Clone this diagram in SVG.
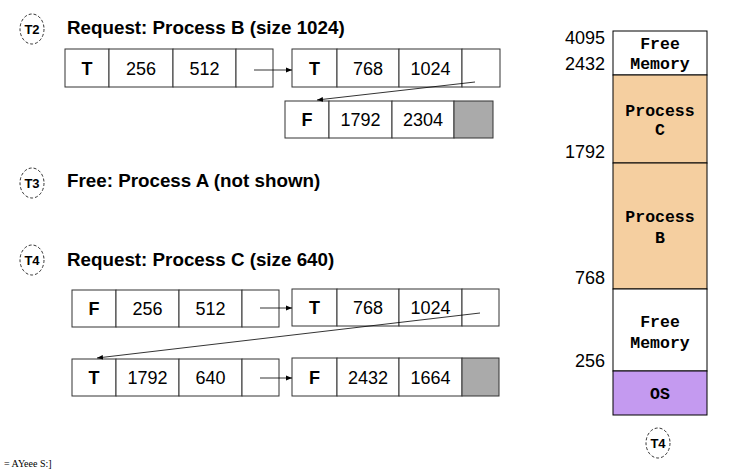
<svg xmlns="http://www.w3.org/2000/svg" width="752" height="470" viewBox="0 0 752 470">
<defs>
<style>
.bg{fill:#fff}
.cell{fill:#fff;stroke:#333;stroke-width:1}
.gray{fill:#aaaaaa;stroke:#333;stroke-width:1}
.t{font-family:"Liberation Sans",Arial,sans-serif;font-size:18px;fill:#000;text-anchor:middle}
.b{font-weight:bold}
.h{font-family:"Liberation Sans",Arial,sans-serif;font-size:18.8px;font-weight:bold;fill:#000}
.tag{fill:none;stroke:#000;stroke-width:0.8;stroke-dasharray:3,2}
.tagt{font-family:"Liberation Sans",Arial,sans-serif;font-size:13px;font-weight:bold;text-anchor:middle}
.addr{font-family:"Liberation Sans",Arial,sans-serif;font-size:18px;text-anchor:end}
.mono{font-family:"Liberation Mono","Courier New",monospace;font-size:16.5px;font-weight:bold;text-anchor:middle}
.conn{stroke:#000;stroke-width:0.8;fill:none;marker-end:url(#ah)}
.blk{stroke:#000;stroke-width:1}
</style>
<marker id="ah" viewBox="0 0 10 10" refX="10" refY="5" markerWidth="6" markerHeight="6" orient="auto" markerUnits="userSpaceOnUse">
<path d="M0,1 L10,5 L0,9 z" fill="#000"/>
</marker>
</defs>
<rect class="bg" x="0" y="0" width="752" height="470"/>

<g id="tag-T2"><ellipse class="tag" cx="32" cy="29" rx="12" ry="15"/><text class="tagt" x="32" y="34">T2</text></g>
<text class="h" x="67" y="34">Request: Process B (size 1024)</text>

<g id="n-T2-1">
<rect class="cell" x="65" y="49" width="44" height="38"/>
<rect class="cell" x="109" y="49" width="64" height="38"/>
<rect class="cell" x="173" y="49" width="63" height="38"/>
<rect class="cell" x="236" y="49" width="37" height="38"/>
<text class="t b" x="87" y="75">T</text><text class="t" x="141" y="75">256</text><text class="t" x="204.5" y="75">512</text>
</g>
<g id="n-T2-2">
<rect class="cell" x="292" y="49" width="45" height="38"/>
<rect class="cell" x="337" y="49" width="62" height="38"/>
<rect class="cell" x="399" y="49" width="63" height="38"/>
<rect class="cell" x="462" y="49" width="38" height="38"/>
<text class="t b" x="314.5" y="75">T</text><text class="t" x="368" y="75">768</text><text class="t" x="430.5" y="75">1024</text>
</g>
<g id="n-T2-3">
<rect class="cell" x="285" y="101" width="44" height="37"/>
<rect class="cell" x="329" y="101" width="63" height="37"/>
<rect class="cell" x="392" y="101" width="62" height="37"/>
<rect class="gray" x="454" y="101" width="39" height="37"/>
<text class="t b" x="307" y="126">F</text><text class="t" x="360.5" y="126">1792</text><text class="t" x="423" y="126">2304</text>
</g>

<g id="tag-T3"><ellipse class="tag" cx="32" cy="183" rx="12" ry="15"/><text class="tagt" x="32" y="188">T3</text></g>
<text class="h" x="67" y="187">Free: Process A (not shown)</text>

<g id="tag-T4"><ellipse class="tag" cx="32" cy="260" rx="12" ry="15"/><text class="tagt" x="32" y="265">T4</text></g>
<text class="h" x="67" y="266">Request: Process C (size 640)</text>

<g id="n-T4-1">
<rect class="cell" x="72" y="290" width="44" height="37"/>
<rect class="cell" x="116" y="290" width="63" height="37"/>
<rect class="cell" x="179" y="290" width="63" height="37"/>
<rect class="cell" x="242" y="290" width="37" height="37"/>
<text class="t b" x="94" y="315">F</text><text class="t" x="147.5" y="315">256</text><text class="t" x="210.5" y="315">512</text>
</g>
<g id="n-T4-2">
<rect class="cell" x="292" y="289" width="45" height="37"/>
<rect class="cell" x="337" y="289" width="62" height="37"/>
<rect class="cell" x="399" y="289" width="63" height="37"/>
<rect class="cell" x="462" y="289" width="37" height="37"/>
<text class="t b" x="314.5" y="314">T</text><text class="t" x="368" y="314">768</text><text class="t" x="430.5" y="314">1024</text>
</g>
<g id="n-T4-3">
<rect class="cell" x="72" y="359" width="44" height="37"/>
<rect class="cell" x="116" y="359" width="63" height="37"/>
<rect class="cell" x="179" y="359" width="63" height="37"/>
<rect class="cell" x="242" y="359" width="37" height="37"/>
<text class="t b" x="94" y="384">T</text><text class="t" x="147.5" y="384">1792</text><text class="t" x="210.5" y="384">640</text>
</g>
<g id="n-T4-4">
<rect class="cell" x="292" y="358" width="45" height="38"/>
<rect class="cell" x="337" y="358" width="62" height="38"/>
<rect class="cell" x="399" y="358" width="63" height="38"/>
<rect class="gray" x="462" y="358" width="37" height="38"/>
<text class="t b" x="314.5" y="384">F</text><text class="t" x="368" y="384">2432</text><text class="t" x="430.5" y="384">1664</text>
</g>

<g id="connectors">
<line class="conn" x1="254" y1="70" x2="292" y2="70"/>
<line class="conn" x1="475" y1="82" x2="317" y2="100"/>
<line class="conn" x1="260" y1="308" x2="292" y2="308"/>
<line class="conn" x1="480" y1="313" x2="97" y2="358"/>
<line class="conn" x1="260" y1="378" x2="292" y2="378"/>
</g>

<g id="memory">
<rect x="613" y="31" width="94" height="44" fill="#fff" class="blk"/>
<rect x="613" y="75" width="94" height="88" fill="#f5cfa0" class="blk"/>
<rect x="613" y="163" width="94" height="126" fill="#f5cfa0" class="blk"/>
<rect x="613" y="289" width="94" height="82" fill="#fff" class="blk"/>
<rect x="613" y="371" width="94" height="44" fill="#c49af0" class="blk"/>
<text class="mono" x="660" y="49">Free</text><text class="mono" x="660" y="69">Memory</text>
<text class="mono" x="660" y="116">Process</text><text class="mono" x="660" y="135">C</text>
<text class="mono" x="660" y="222">Process</text><text class="mono" x="660" y="243">B</text>
<text class="mono" x="660" y="327">Free</text><text class="mono" x="660" y="348">Memory</text>
<text class="mono" x="660" y="399">OS</text>
<text class="addr" x="605" y="44">4095</text>
<text class="addr" x="605" y="70">2432</text>
<text class="addr" x="605" y="158">1792</text>
<text class="addr" x="605" y="284">768</text>
<text class="addr" x="605" y="367">256</text>
</g>
<g id="tag-T4b"><ellipse class="tag" cx="658" cy="443" rx="12" ry="15"/><text class="tagt" x="658" y="448">T4</text></g>
<text x="4" y="467" font-family="'Liberation Serif',serif" font-size="10">= AYeee S:]</text>
</svg>
